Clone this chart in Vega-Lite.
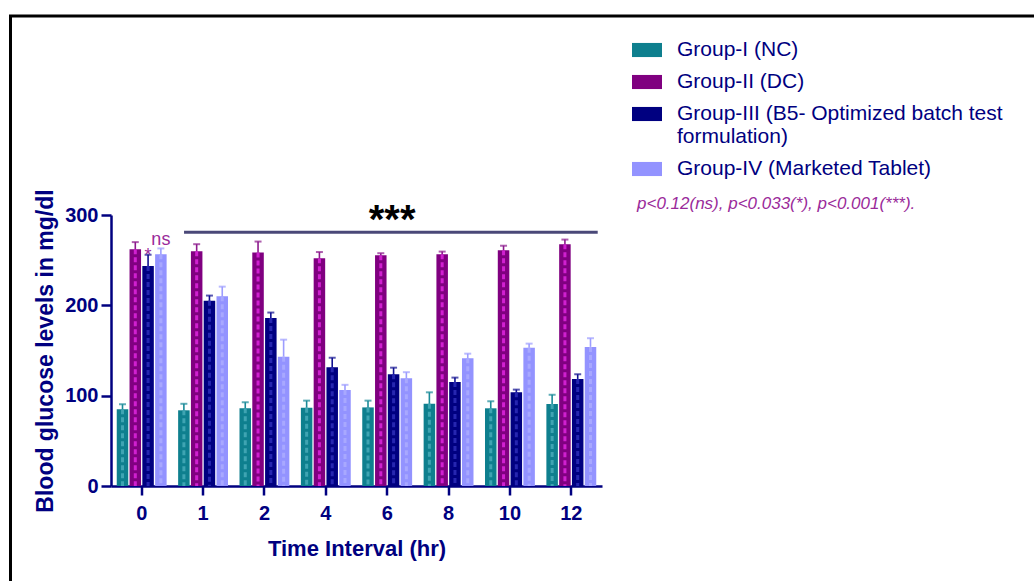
{
  "$schema": "https://vega.github.io/schema/vega-lite/v6.json",
  "width": 1033.5,
  "height": 575,
  "autosize": {"type": "none"},
  "padding": {"left": 10.5, "top": 16, "right": -10, "bottom": -10},
  "background": "white",
  "config": {
    "view": {"stroke": "black", "strokeWidth": 3},
    "font": "Liberation Sans"
  },
  "title": {
    "text": "p<0.12(ns), p<0.033(*), p<0.001(***).",
    "orient": "top",
    "anchor": "start",
    "frame": "group",
    "offset": 0,
    "dx": 626.5,
    "dy": 210,
    "baseline": "alphabetic",
    "font": "Liberation Sans",
    "fontSize": 17,
    "fontStyle": "italic",
    "fontWeight": "normal",
    "color": "#9a2a9a"
  },
  "datasets": {
    "glucose": [
      {"t": "0", "group": "Group-I (NC)", "mean": 85.0, "upper": 90.5},
      {"t": "0", "group": "Group-II (DC)", "mean": 262.0, "upper": 270.0},
      {"t": "0", "group": "Group-III (B5- Optimized batch test formulation)", "mean": 243.6, "upper": 256.0},
      {"t": "0", "group": "Group-IV (Marketed Tablet)", "mean": 256.6, "upper": 263.0},
      {"t": "1", "group": "Group-I (NC)", "mean": 83.8, "upper": 91.0},
      {"t": "1", "group": "Group-II (DC)", "mean": 260.0, "upper": 267.7},
      {"t": "1", "group": "Group-III (B5- Optimized batch test formulation)", "mean": 205.0, "upper": 210.8},
      {"t": "1", "group": "Group-IV (Marketed Tablet)", "mean": 210.0, "upper": 220.7},
      {"t": "2", "group": "Group-I (NC)", "mean": 86.0, "upper": 92.7},
      {"t": "2", "group": "Group-II (DC)", "mean": 258.4, "upper": 270.6},
      {"t": "2", "group": "Group-III (B5- Optimized batch test formulation)", "mean": 186.0, "upper": 192.0},
      {"t": "2", "group": "Group-IV (Marketed Tablet)", "mean": 143.2, "upper": 162.0},
      {"t": "4", "group": "Group-I (NC)", "mean": 86.7, "upper": 94.5},
      {"t": "4", "group": "Group-II (DC)", "mean": 252.0, "upper": 259.0},
      {"t": "4", "group": "Group-III (B5- Optimized batch test formulation)", "mean": 131.4, "upper": 142.0},
      {"t": "4", "group": "Group-IV (Marketed Tablet)", "mean": 106.3, "upper": 112.0},
      {"t": "6", "group": "Group-I (NC)", "mean": 87.0, "upper": 94.5},
      {"t": "6", "group": "Group-II (DC)", "mean": 255.5, "upper": 257.7},
      {"t": "6", "group": "Group-III (B5- Optimized batch test formulation)", "mean": 123.7, "upper": 131.0},
      {"t": "6", "group": "Group-IV (Marketed Tablet)", "mean": 119.2, "upper": 126.0},
      {"t": "8", "group": "Group-I (NC)", "mean": 91.0, "upper": 103.7},
      {"t": "8", "group": "Group-II (DC)", "mean": 256.5, "upper": 259.5},
      {"t": "8", "group": "Group-III (B5- Optimized batch test formulation)", "mean": 115.0, "upper": 120.0},
      {"t": "8", "group": "Group-IV (Marketed Tablet)", "mean": 141.4, "upper": 146.5},
      {"t": "10", "group": "Group-I (NC)", "mean": 86.0, "upper": 93.8},
      {"t": "10", "group": "Group-II (DC)", "mean": 261.0, "upper": 266.0},
      {"t": "10", "group": "Group-III (B5- Optimized batch test formulation)", "mean": 103.7, "upper": 106.7},
      {"t": "10", "group": "Group-IV (Marketed Tablet)", "mean": 153.0, "upper": 157.6},
      {"t": "12", "group": "Group-I (NC)", "mean": 90.8, "upper": 101.0},
      {"t": "12", "group": "Group-II (DC)", "mean": 267.6, "upper": 272.8},
      {"t": "12", "group": "Group-III (B5- Optimized batch test formulation)", "mean": 118.5, "upper": 123.7},
      {"t": "12", "group": "Group-IV (Marketed Tablet)", "mean": 154.0, "upper": 163.6}
    ],
    "marks_at_zero": [
      {"t": "0", "group": "Group-III (B5- Optimized batch test formulation)", "mean": 249, "label": "*"},
      {"t": "0", "group": "Group-IV (Marketed Tablet)", "mean": 267, "label": "ns"}
    ],
    "bracket": [
      {"t": "1", "t2": "12", "mean": 281, "label": "***"}
    ]
  },
  "layer": [
    {
      "data": {"name": "glucose"},
      "mark": {"type": "bar", "strokeWidth": 0},
      "encoding": {
        "x": {
          "field": "t",
          "type": "ordinal",
          "scale": {
            "domain": ["0", "1", "2", "4", "6", "8", "10", "12"],
            "range": [100.5, 591.5],
            "paddingInner": 0,
            "paddingOuter": 0
          },
          "axis": {
            "title": "Time Interval (hr)",
            "offset": -105,
            "labelAngle": 0,
            "domainColor": "#000080",
            "domainWidth": 2.5,
            "tickColor": "#000080",
            "tickWidth": 2.5,
            "tickSize": 9,
            "labelPadding": 8,
            "labelFont": "Liberation Sans",
            "labelFontSize": 20,
            "labelFontWeight": "bold",
            "labelColor": "#000080",
            "titleFont": "Liberation Sans",
            "titleFontSize": 22,
            "titleFontWeight": "bold",
            "titleColor": "#000080",
            "titlePadding": 15,
            "grid": false
          }
        },
        "xOffset": {
          "field": "group",
          "type": "nominal",
          "sort": null,
          "scale": {"paddingInner": 0.1, "paddingOuter": 0.45}
        },
        "y": {
          "field": "mean",
          "type": "quantitative",
          "scale": {"domain": [0, 300], "range": [470, 199], "nice": false},
          "axis": {
            "title": "Blood glucose levels in mg/dl",
            "values": [0, 100, 200, 300],
            "offset": -100.5,
            "domainColor": "#000080",
            "domainWidth": 2.5,
            "tickColor": "#000080",
            "tickWidth": 2.5,
            "tickSize": 10,
            "labelPadding": 3,
            "labelFont": "Liberation Sans",
            "labelFontSize": 20,
            "labelFontWeight": "bold",
            "labelColor": "#000080",
            "titleFont": "Liberation Sans",
            "titleFontSize": 23,
            "titleFontWeight": "bold",
            "titleColor": "#000080",
            "titlePadding": 7,
            "grid": false
          }
        },
        "fill": {
          "field": "group",
          "type": "nominal",
          "sort": null,
          "scale": {
            "domain": ["Group-I (NC)", "Group-II (DC)", "Group-III (B5- Optimized batch test formulation)", "Group-IV (Marketed Tablet)"],
            "range": ["#0e7f8e", "#800080", "#000080", "#9393ff"]
          },
          "legend": {
            "orient": "none",
            "legendX": 621.5,
            "legendY": 19,
            "title": null,
            "padding": 0,
            "symbolType": "M-1,-0.47H1V0.47H-1Z",
            "symbolSize": 900,
            "symbolStrokeWidth": 0,
            "labelFont": "Liberation Sans",
            "labelFontSize": 21,
            "labelColor": "#000080",
            "labelOffset": 15,
            "labelLimit": 600,
            "rowPadding": 7,
            "labelExpr": "datum.label == 'Group-III (B5- Optimized batch test formulation)' ? ['Group-III (B5- Optimized batch test', 'formulation)'] : datum.label"
          }
        }
      }
    },
    {
      "data": {"name": "glucose"},
      "mark": {"type": "rule", "strokeWidth": 3, "strokeDash": [5, 3]},
      "encoding": {
        "x": {"field": "t", "type": "ordinal"},
        "xOffset": {"field": "group", "type": "nominal", "sort": null},
        "y": {"field": "mean", "type": "quantitative"},
        "y2": {"datum": 0},
        "stroke": {
          "field": "group",
          "type": "nominal",
          "sort": null,
          "scale": {
            "domain": ["Group-I (NC)", "Group-II (DC)", "Group-III (B5- Optimized batch test formulation)", "Group-IV (Marketed Tablet)"],
            "range": ["#3ea4b2", "#d020d0", "#2626b0", "#a8a8ff"]
          },
          "legend": null
        }
      }
    },
    {
      "data": {"name": "glucose"},
      "mark": {"type": "rule", "strokeWidth": 1.6},
      "encoding": {
        "x": {"field": "t", "type": "ordinal"},
        "xOffset": {"field": "group", "type": "nominal", "sort": null},
        "y": {"field": "mean", "type": "quantitative"},
        "y2": {"field": "upper"},
        "color": {
          "field": "group",
          "type": "nominal",
          "sort": null,
          "scale": {
            "domain": ["Group-I (NC)", "Group-II (DC)", "Group-III (B5- Optimized batch test formulation)", "Group-IV (Marketed Tablet)"],
            "range": ["#1a8a98", "#8c1a8c", "#101090", "#9d9dff"]
          },
          "legend": null
        }
      }
    },
    {
      "data": {"name": "glucose"},
      "mark": {"type": "tick", "size": 7, "thickness": 2, "orient": "horizontal"},
      "encoding": {
        "x": {"field": "t", "type": "ordinal"},
        "xOffset": {"field": "group", "type": "nominal", "sort": null},
        "y": {"field": "upper", "type": "quantitative"},
        "color": {"field": "group", "type": "nominal", "sort": null, "legend": null}
      }
    },
    {
      "data": {"name": "bracket"},
      "mark": {"type": "rule", "strokeWidth": 3, "color": "#4a4878"},
      "encoding": {
        "x": {"field": "t", "type": "ordinal", "bandPosition": 0.19},
        "x2": {"field": "t2", "bandPosition": 0.93},
        "y": {"field": "mean", "type": "quantitative"}
      }
    },
    {
      "data": {"name": "bracket"},
      "mark": {"type": "text", "font": "Liberation Sans", "fontSize": 40, "fontWeight": "bold", "color": "black", "baseline": "alphabetic", "align": "center", "dy": 1},
      "encoding": {
        "x": {"datum": "6", "type": "ordinal", "bandPosition": 0.58},
        "y": {"field": "mean", "type": "quantitative"},
        "text": {"field": "label"}
      }
    },
    {
      "data": {"name": "marks_at_zero"},
      "mark": {"type": "text", "font": "Liberation Sans", "fontSize": 18, "color": "#9a2a9a", "baseline": "alphabetic", "align": "center"},
      "encoding": {
        "x": {"field": "t", "type": "ordinal"},
        "xOffset": {"field": "group", "type": "nominal", "sort": null},
        "y": {"field": "mean", "type": "quantitative"},
        "text": {"field": "label"}
      }
    }
  ]
}
